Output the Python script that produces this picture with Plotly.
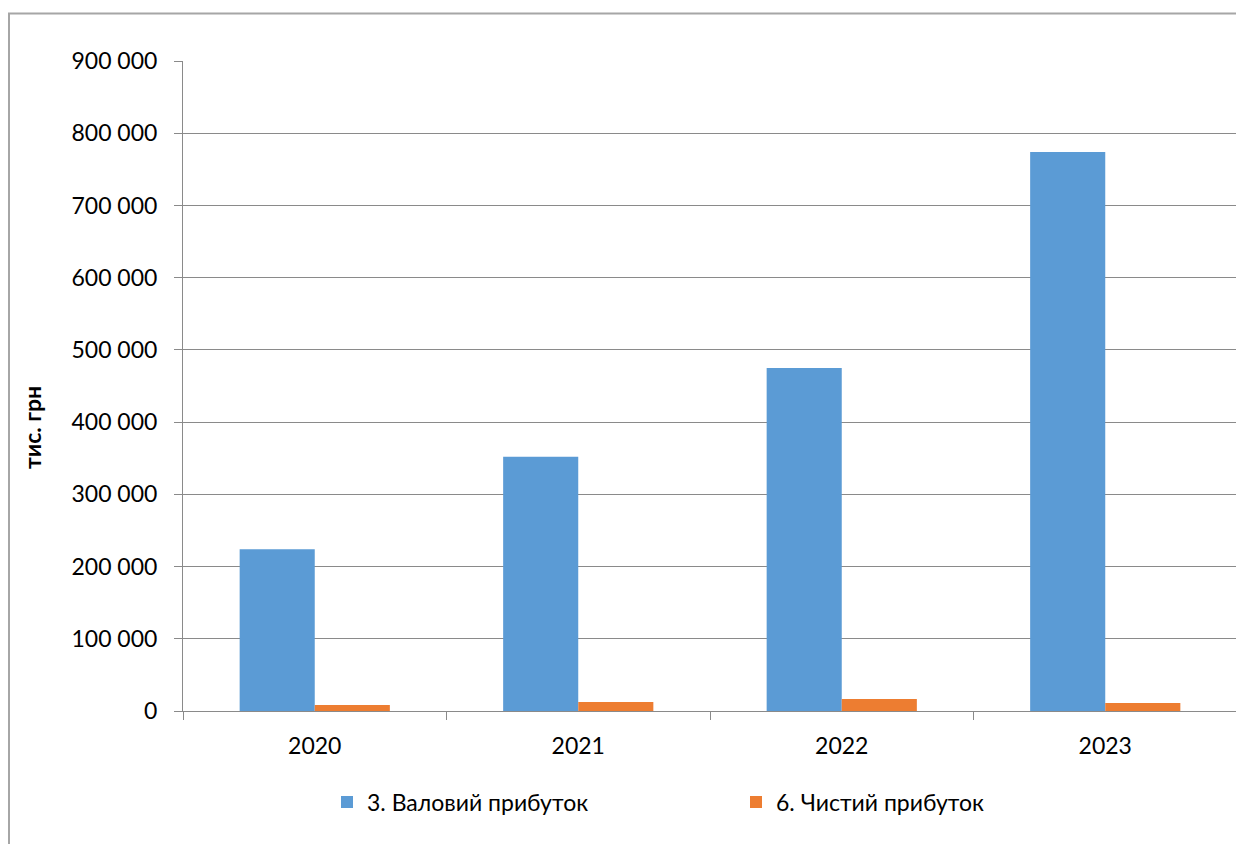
import plotly.graph_objects as go

years = ["2020", "2021", "2022", "2023"]
gross_profit = [224000, 352000, 475000, 774000]
net_profit = [8300, 12500, 16600, 11000]
series_names = ["3. Валовий прибуток", "6. Чистий прибуток"]
y_title = "тис. грн"

FONT = "Lato"
OFF = 8  # page body margin
W, H = 1244 - OFF, 844 - OFF
# plot area in window pixels
L, R, T, B = 183, 1237, 61, 711

fig = go.Figure()
fig.add_trace(go.Bar(x=years, y=gross_profit, name=series_names[0], showlegend=True,
                     marker=dict(color="#5B9BD5", line=dict(width=0)), legend="legend"))
fig.add_trace(go.Bar(x=years, y=net_profit, name=series_names[1], showlegend=True,
                     marker=dict(color="#ED7D31", line=dict(width=0)), legend="legend2"))

def px_x(x):
    return (x - L) / (R - L)

def px_y(y):
    return (B - y) / (B - T)

fig.update_layout(
    width=W, height=H,
    margin=dict(l=L - OFF, r=W + OFF - R, t=T - OFF, b=H + OFF - B, pad=0),
    paper_bgcolor="white", plot_bgcolor="white",
    barmode="group", bargap=0.43, bargroupgap=0,
    separators=". ",
    showlegend=True,
    font=dict(family=FONT, size=23, color="#000000"),
    xaxis=dict(showline=True, linecolor="#8a8a8a", linewidth=1,
               ticks="outside", tickson="boundaries", ticklen=8, tickcolor="#8a8a8a",
               showgrid=False, tickfont=dict(size=23), ticklabelstandoff=14),
    yaxis=dict(range=[0, 900000], dtick=100000, tickformat=",d",
               showline=True, linecolor="#8a8a8a", linewidth=1,
               ticks="outside", ticklen=8, tickcolor="#8a8a8a",
               showgrid=True, gridcolor="#8a8a8a", gridwidth=1, zeroline=False,
               tickfont=dict(size=23), ticklabelstandoff=12),
    legend=dict(orientation="h", x=px_x(327), y=px_y(802), xanchor="left", yanchor="middle",
                font=dict(size=23), bgcolor="rgba(0,0,0,0)", visible=True),
    legend2=dict(orientation="h", x=px_x(736), y=px_y(802), xanchor="left", yanchor="middle",
                 font=dict(size=23), bgcolor="rgba(0,0,0,0)", visible=True),
    annotations=[dict(text="<b>" + y_title + "</b>", textangle=-90, xref="paper", yref="paper",
                      x=px_x(32), y=px_y(428), xanchor="center", yanchor="middle",
                      showarrow=False, font=dict(size=23))],
    shapes=[
        dict(type="line", xref="paper", yref="paper", x0=px_x(8), x1=px_x(1260), y0=px_y(13.5), y1=px_y(13.5),
             line=dict(color="#a6a6a6", width=2)),
        dict(type="line", xref="paper", yref="paper", x0=px_x(9), x1=px_x(9), y0=px_y(13.5), y1=px_y(860),
             line=dict(color="#a6a6a6", width=2)),
    ],
)

fig.write_html("out.html")
